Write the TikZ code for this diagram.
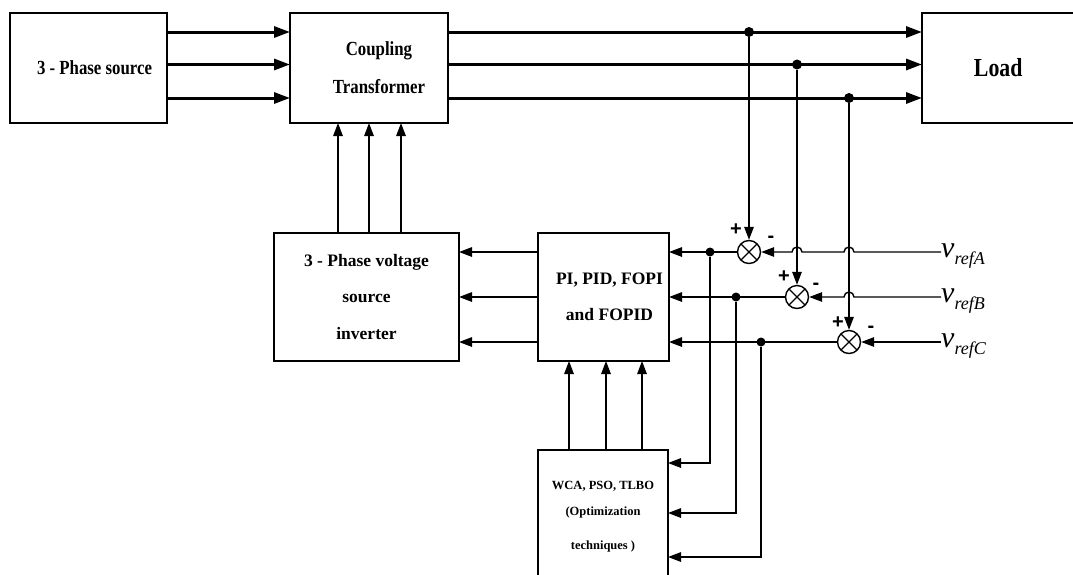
\documentclass[tikz,border=0pt]{standalone}
\usepackage{fontspec}
\setmainfont{Liberation Serif}
\newfontfamily\narrowfont[FakeStretch=0.84]{Liberation Serif}
\newfontfamily\signfont{Liberation Sans}
\usepackage{tikz}
\usetikzlibrary{arrows.meta, positioning, calc}
\definecolor{dvrBlack}{RGB}{0, 0, 0}

\begin{document}
\begin{tikzpicture}[
  x=1pt, y=-1pt,
  block/.style={
    rectangle, draw=dvrBlack, line width=1.4pt,
    inner sep=0pt, outer sep=0pt, anchor=north west,
    align=center, font=\bfseries
  },
  bigtext/.style={font=\narrowfont\bfseries\fontsize{20}{38}\selectfont},
  loadtext/.style={font=\narrowfont\bfseries\fontsize{26}{30}\selectfont},
  midtext/.style={font=\bfseries\fontsize{17.5}{36.5}\selectfont},
  smalltext/.style={font=\bfseries\fontsize{12.5}{26}\selectfont},
  power/.style={-{Triangle[length=16pt,width=11pt]}, line width=3pt, color=dvrBlack},
  sig/.style={-{Triangle[length=13pt,width=9.5pt]}, line width=1.4pt, color=dvrBlack},
  dot/.style={circle, fill=dvrBlack, inner sep=0pt, minimum size=#1},
  dot/.default=9pt,
  sum/.style={
    circle, draw=dvrBlack, line width=1.4pt, minimum size=23pt, inner sep=0pt,
    path picture={
      \draw[line width=1.3pt] (path picture bounding box.north west) -- (path picture bounding box.south east)
        (path picture bounding box.north east) -- (path picture bounding box.south west);}
  },
  sign/.style={inner sep=0pt, font=\signfont\bfseries\fontsize{20}{20}\selectfont},
  vref/.style={inner sep=0pt, anchor=base west, font=\itshape}
]
\useasboundingbox (0,0) rectangle (1073,574);

% blocks
\node[block, bigtext, minimum width=157pt, minimum height=110pt] (source) at (10,13)
  {\hspace*{12pt}3 - Phase source};
\node[block, bigtext, minimum width=158pt, minimum height=110pt] (coupling) at (290,13)
  {\hspace*{20pt}Coupling\\\hspace*{20pt}Transformer};
\node[block, loadtext, minimum width=152.5pt, minimum height=110pt] (load) at (922,13)
  {Load};
\node[block, midtext, minimum width=185pt, minimum height=128pt] (inverter) at (274,233)
  {3 - Phase voltage\\source\\inverter};
\node[block, midtext, minimum width=131pt, minimum height=128pt] (ctrl) at (538,233)
  {\hspace*{12pt}PI, PID, FOPI\\\hspace*{12pt}and FOPID};
\node[block, smalltext, minimum width=130pt, minimum height=134pt] (opt) at (538,450)
  {WCA, PSO, TLBO\\(Optimization\\[8pt]techniques )};

% phase rows and columns
\coordinate (ra) at (0,32);
\coordinate (rb) at (0,64.5);
\coordinate (rc) at (0,98);
\coordinate (ka) at (338,0);
\coordinate (kb) at (369,0);
\coordinate (kc) at (401,0);
\coordinate (pa) at (569,0);
\coordinate (pb) at (606,0);
\coordinate (pc) at (642,0);
\coordinate (oa) at (0,463);
\coordinate (ob) at (0,513);
\coordinate (oc) at (0,557);

% comparators
\node[sum] (sa) at (749,252) {};
\node[sum] (sb) at (797,297) {};
\node[sum] (sc) at (849,342) {};
\node[sign] at ($(sa)+(-13,-22)$) {+};
\node[sign] at ($(sa)+(22,-13)$) {-};
\node[sign] at ($(sb)+(-13,-20)$) {+};
\node[sign] at ($(sb)+(19,-11)$) {-};
\node[sign] at ($(sc)+(-11,-19)$) {+};
\node[sign] at ($(sc)+(22,-13)$) {-};

% references
\node[vref] (va) at (941,257)
  {{\fontsize{30}{30}\selectfont v}\raisebox{-7pt}{\fontsize{18}{18}\selectfont refA}};
\node[vref] (vb) at (941,302)
  {{\fontsize{30}{30}\selectfont v}\raisebox{-7pt}{\fontsize{18}{18}\selectfont refB}};
\node[vref] (vc) at (941,347)
  {{\fontsize{30}{30}\selectfont v}\raisebox{-7pt}{\fontsize{18}{18}\selectfont refC}};

% power path
\draw[power] (source.east |- ra) -- (coupling.west |- ra);
\draw[power] (source.east |- rb) -- (coupling.west |- rb);
\draw[power] (source.east |- rc) -- (coupling.west |- rc);
\draw[power] (coupling.east |- ra) -- (load.west |- ra);
\draw[power] (coupling.east |- rb) -- (load.west |- rb);
\draw[power] (coupling.east |- rc) -- (load.west |- rc);

\node[dot=10pt] (ja) at (sa |- ra) {};
\node[dot=10pt] (jb) at (sb |- rb) {};
\node[dot=10pt] (jc) at (sc |- rc) {};

% measured voltages
\draw[sig] (ja) -- (sa);
\draw[sig] (jb) -- (sb);
\draw[sig] (jc) -- (sc);

% reference lines with bridges
\draw[sig] (va.west |- sa) -- ($(jc |- sa)+(5,0)$) arc[start angle=0, end angle=180, radius=5pt]
  -- ($(jb |- sa)+(5,0)$) arc[start angle=0, end angle=180, radius=5pt] -- (sa);
\draw[sig] (vb.west |- sb) -- ($(jc |- sb)+(5,0)$) arc[start angle=0, end angle=180, radius=5pt] -- (sb);
\draw[sig] (vc.west |- sc) -- (sc);

% error signals
\draw[sig] (sa) -- (ctrl.east |- sa);
\draw[sig] (sb) -- (ctrl.east |- sb);
\draw[sig] (sc) -- (ctrl.east |- sc);

\node[dot] (da) at (710,252) {};
\node[dot] (db) at (736,297) {};
\node[dot] (dc) at (761,342) {};
\draw[sig] (da) |- (opt.east |- oa);
\draw[sig] (db) |- (opt.east |- ob);
\draw[sig] (dc) |- (opt.east |- oc);

% controller, inverter, optimizer
\draw[sig] (ctrl.west |- sa) -- (inverter.east |- sa);
\draw[sig] (ctrl.west |- sb) -- (inverter.east |- sb);
\draw[sig] (ctrl.west |- sc) -- (inverter.east |- sc);
\draw[sig] (opt.north -| pa) -- (ctrl.south -| pa);
\draw[sig] (opt.north -| pb) -- (ctrl.south -| pb);
\draw[sig] (opt.north -| pc) -- (ctrl.south -| pc);
\draw[sig] (inverter.north -| ka) -- (coupling.south -| ka);
\draw[sig] (inverter.north -| kb) -- (coupling.south -| kb);
\draw[sig] (inverter.north -| kc) -- (coupling.south -| kc);

\end{tikzpicture}
\end{document}
